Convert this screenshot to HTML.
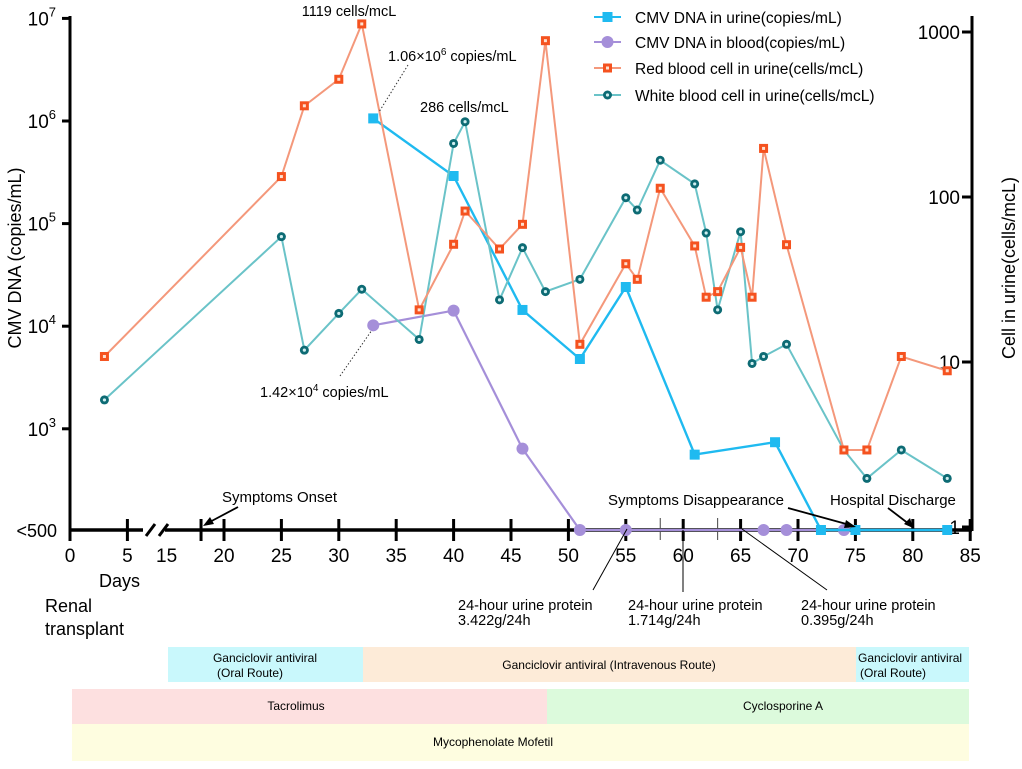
<!DOCTYPE html>
<html><head><meta charset="utf-8"><style>
html,body{margin:0;padding:0;background:#fff;}
body{width:1022px;height:764px;overflow:hidden;font-family:"Liberation Sans",Arial,sans-serif;}
svg text{font-family:"Liberation Sans",Arial,sans-serif;}
</style></head><body>
<svg id="chart" width="1022" height="764" viewBox="0 0 1022 764" xmlns="http://www.w3.org/2000/svg">
<g id="bars">
  <rect x="168" y="647" width="195" height="35" fill="#c9f8fc"/>
  <text x="265" y="662" font-size="12" text-anchor="middle">Ganciclovir antiviral</text>
  <text x="217" y="677" font-size="12">(Oral Route)</text>
  <rect x="363" y="647" width="493" height="35" fill="#fdebd8"/>
  <text x="609" y="669" font-size="12" text-anchor="middle">Ganciclovir antiviral (Intravenous Route)</text>
  <rect x="856" y="647" width="113" height="35" fill="#c9f8fc"/>
  <text x="858" y="662" font-size="12">Ganciclovir antiviral</text>
  <text x="860" y="677" font-size="12">(Oral Route)</text>
  <rect x="72" y="689" width="475" height="35" fill="#fde0e0"/>
  <text x="296" y="710" font-size="12" text-anchor="middle">Tacrolimus</text>
  <rect x="547" y="689" width="422" height="35" fill="#dcfadc"/>
  <text x="783" y="710" font-size="12" text-anchor="middle">Cyclosporine A</text>
  <rect x="72" y="724" width="897" height="37" fill="#fefde0"/>
  <text x="493" y="746" font-size="12" text-anchor="middle">Mycophenolate Mofetil</text>
</g>
<g id="axes"></g>
<g id="series"></g>
<g id="notes">
  <text x="349" y="16" font-size="14.5" text-anchor="middle">1119 cells/mcL</text>
  <text x="388" y="61" font-size="14.5">1.06×10<tspan dy="-6" font-size="10">6</tspan><tspan dy="6"> copies/mL</tspan></text>
  <line x1="408" y1="65" x2="379" y2="112" stroke="#333" stroke-width="1" stroke-dasharray="1.5,2"/>
  <text x="420" y="112" font-size="14.5">286 cells/mcL</text>
  <text x="260" y="397" font-size="14.5">1.42×10<tspan dy="-6" font-size="10">4</tspan><tspan dy="6"> copies/mL</tspan></text>
  <line x1="340" y1="376" x2="372" y2="330" stroke="#333" stroke-width="1" stroke-dasharray="1.5,2"/>
  <text x="222" y="502" font-size="15">Symptoms Onset</text>
  <line x1="238" y1="507" x2="206" y2="524" stroke="#000" stroke-width="1.8"/>
  <polygon points="203,526 210,517 214,524" fill="#000"/>
  <text x="608" y="505" font-size="15">Symptoms Disappearance</text>
  <line x1="788" y1="508" x2="850" y2="525" stroke="#000" stroke-width="1.8"/>
  <polygon points="856,527 846,520 844,528" fill="#000"/>
  <text x="830" y="505" font-size="15">Hospital Discharge</text>
  <line x1="888" y1="508" x2="909" y2="524" stroke="#000" stroke-width="1.8"/>
  <polygon points="913,528 904,524 910,518" fill="#000"/>
  <text x="99" y="587" font-size="18">Days</text>
  <text x="45" y="612" font-size="18">Renal</text>
  <text x="45" y="635" font-size="18">transplant</text>
  <text x="458" y="610" font-size="14.5">24-hour urine protein</text>
  <text x="458" y="625" font-size="14.5">3.422g/24h</text>
  <line x1="593" y1="590" x2="627" y2="529" stroke="#000" stroke-width="1"/>
  <text x="628" y="610" font-size="14.5">24-hour urine protein</text>
  <text x="628" y="625" font-size="14.5">1.714g/24h</text>
  <line x1="683" y1="592" x2="683" y2="530" stroke="#000" stroke-width="1"/>
  <text x="801" y="610" font-size="14.5">24-hour urine protein</text>
  <text x="801" y="625" font-size="14.5">0.395g/24h</text>
  <line x1="827" y1="590" x2="742" y2="529" stroke="#000" stroke-width="1"/>
</g>
<g id="legend"></g>
</svg>
<script>
// data
const cmvUrineDays = [33, 40, 46, 51, 55, 61, 68, 72, 75, 83];
const cmvUrineValues = [1060000, 291000, 14400, 4790, 24100, 560, 740, 0, 0, 0];
const cmvBloodDays = [33, 40, 46, 51, 55, 67, 69, 74];
const cmvBloodValues = [10200, 14200, 640, 0, 0, 0, 0, 0];
const rbcDays = [3, 25, 27, 30, 32, 37, 40, 41, 44, 46, 48, 51, 55, 56, 58, 61, 62, 63, 65, 66, 67, 69, 74, 76, 79, 83];
const rbcValues = [10.8, 133, 357, 517, 1119, 20.7, 51.7, 82.2, 48.4, 68.3, 886, 12.8, 39.4, 31.7, 113, 50.5, 24.7, 26.7, 49.5, 24.7, 197, 51.4, 2.93, 2.93, 10.8, 8.85];
const wbcDays = [3, 25, 27, 30, 32, 37, 40, 41, 44, 46, 48, 51, 55, 56, 58, 61, 62, 63, 65, 66, 67, 69, 74, 76, 79, 83];
const wbcValues = [5.89, 57.5, 11.8, 19.7, 27.6, 13.7, 211, 286, 23.8, 49.3, 26.7, 31.7, 99, 83.4, 167, 120, 60.5, 20.7, 61.6, 9.8, 10.8, 12.8, 2.93, 1.97, 2.93, 1.97];
const xTickLabels = [0, 5, 15, 20, 25, 30, 35, 40, 45, 50, 55, 60, 65, 70, 75, 80, 85];
const leftTickExps = [7, 6, 5, 4, 3];
const rightTickLabels = [1000, 100, 10, 1];

const NS = "http://www.w3.org/2000/svg";
function xScale(d){ return d <= 10 ? 70 + d * 11.48 : 224 + (d - 20) * 11.48; }
function yLeft(v){ return v <= 500 ? 530 : 121 + (6 - Math.log10(v)) * 102.6; }
function yRight(v){ return 32 + (3 - Math.log10(v)) * 165; }
function mk(tag, attrs, parent){
  const e = document.createElementNS(NS, tag);
  for (const k in attrs) e.setAttribute(k, attrs[k]);
  parent.appendChild(e); return e;
}
const axes = document.getElementById('axes');
const series = document.getElementById('series');
const legend = document.getElementById('legend');

// left axis
let la = mk('line', {x1:70, y1:16, x2:70, y2:531, stroke:'#000', 'stroke-width':3}, axes);


leftTickExps.forEach(function(p){
  const y = yLeft(Math.pow(10, p));
  const t = mk('line', {x1:62, y1:y, x2:70, y2:y, stroke:'#000', 'stroke-width':3}, axes);
  
  
  const tx = mk('text', {x:56, y:y+7, 'font-size':19, 'text-anchor':'end'}, axes);
  
  
  tx.innerHTML = '10<tspan dy="-9" font-size="13">' + p + '</tspan>';
});
let lt = mk('text', {x:57, y:537, 'font-size':18, 'text-anchor':'end'}, axes);


lt.textContent = '<500';
let lyt = mk('text', {x:0, y:0, 'font-size':18, 'text-anchor':'middle', transform:'translate(21,258) rotate(-90)'}, axes);


lyt.textContent = 'CMV DNA (copies/mL)';

// right axis
let ra = mk('line', {x1:972, y1:16, x2:972, y2:531, stroke:'#000', 'stroke-width':3}, axes);


rightTickLabels.forEach(function(v){
  const y = yRight(v);
  const t = mk('line', {x1:962, y1:y, x2:972, y2:y, stroke:'#000', 'stroke-width':3}, axes);
  
  
  const tx = mk('text', {x:960, y:y+7, 'font-size':19, 'text-anchor':'end'}, axes);
  
  
  tx.textContent = v;
});
let ryt = mk('text', {x:0, y:0, 'font-size':18, 'text-anchor':'middle', transform:'translate(1015,268) rotate(-90)'}, axes);


ryt.textContent = 'Cell in urine(cells/mcL)';

// x axis
let xa = mk('line', {x1:70, y1:530, x2:972, y2:530, stroke:'#000', 'stroke-width':3.5}, axes);


let brk = mk('rect', {x:143, y:522, width:22, height:16, fill:'#fff'}, axes);


[146, 159].forEach(function(bx){
  const b = mk('line', {x1:bx, y1:536, x2:bx+9, y2:524, stroke:'#000', 'stroke-width':3}, axes);
  
  
});
xTickLabels.forEach(function(d){
  const x = xScale(d);
  if (d !== 15) {
    const t = mk('line', {x1:x, y1:519, x2:x, y2:541, stroke:'#000', 'stroke-width':3}, axes);
    
    
  }
  const tx = mk('text', {x:x, y:562, 'font-size':19, 'text-anchor':'middle'}, axes);
  
  
  tx.textContent = d;
});
let t18 = mk('line', {x1:xScale(18), y1:519, x2:xScale(18), y2:541, stroke:'#000', 'stroke-width':3}, axes);


[58, 63].forEach(function(d){
  const t = mk('line', {x1:xScale(d), y1:518, x2:xScale(d), y2:540, stroke:'#444', 'stroke-width':1}, axes);
  
  
});

function drawSeries(name, days, vals, ys, lineColor, lw, marker){
  const g = mk('g', {}, series);
  
  
  const pts = days.map(function(d, i){ return xScale(d).toFixed(1) + ',' + ys(vals[i]).toFixed(1); }).join(' ');
  const pl = mk('polyline', {points:pts, fill:'none', stroke:lineColor, 'stroke-width':lw}, g);
  
  
  days.forEach(function(d, i){
    const x = xScale(d), y = ys(vals[i]);
    const m = marker(g, x, y);
    
    
  });
}
function rbcMarker(g, x, y){
  const m = mk('g', {}, g);
  mk('rect', {x:x-4.5, y:y-4.5, width:9, height:9, fill:'#f5521f'}, m);
  mk('rect', {x:x-1.5, y:y-1.5, width:3, height:3, fill:'#fde0d0'}, m);
  return m;
}
function wbcMarker(g, x, y){
  const m = mk('g', {}, g);
  mk('circle', {cx:x, cy:y, r:4.5, fill:'#0d6b74'}, m);
  mk('circle', {cx:x, cy:y, r:1.6, fill:'#cfeef0'}, m);
  return m;
}
function urineMarker(g, x, y){ return mk('rect', {x:x-5, y:y-5, width:10, height:10, fill:'#1fbaf0'}, g); }
function bloodMarker(g, x, y){ return mk('circle', {cx:x, cy:y, r:6, fill:'#a58fd9'}, g); }

drawSeries('cmv-blood', cmvBloodDays, cmvBloodValues, yLeft, '#a58fd9', 2.2, bloodMarker);
drawSeries('cmv-urine', cmvUrineDays, cmvUrineValues, yLeft, '#1fbaf0', 2.4, urineMarker);
drawSeries('wbc-urine', wbcDays, wbcValues, yRight, '#6ac3c8', 2, wbcMarker);
drawSeries('rbc-urine', rbcDays, rbcValues, yRight, '#f4987b', 2, rbcMarker);

// legend
const legendNames = ['CMV DNA in urine(copies/mL)', 'CMV DNA in blood(copies/mL)', 'Red blood cell in urine(cells/mcL)', 'White blood cell in urine(cells/mcL)'];
const legendColors = ['#1fbaf0', '#a58fd9', '#f4987b', '#6ac3c8'];
const legendMarkers = [urineMarker, bloodMarker, rbcMarker, wbcMarker];
const legendYs = [17, 42, 68, 95];
legendNames.forEach(function(n, i){
  const g = mk('g', {}, legend);
  
  
  mk('line', {x1:594, y1:legendYs[i], x2:621, y2:legendYs[i], stroke:legendColors[i], 'stroke-width':2}, g);
  legendMarkers[i](g, 607.5, legendYs[i]);
  const t = mk('text', {x:635, y:legendYs[i]+6, 'font-size':15.5}, g);
  
  
  t.textContent = n;
});
</script>
</body></html>
